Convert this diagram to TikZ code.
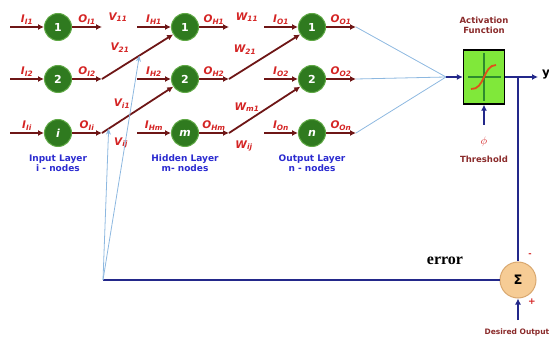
\documentclass[tikz,border=0pt]{standalone}
\usepackage{fontspec}
\setmainfont{DejaVu Sans}
\newfontfamily\errfont{Liberation Serif}
\usetikzlibrary{positioning,calc,arrows.meta}

\definecolor{wirered}{HTML}{6E1616}
\definecolor{labelred}{HTML}{D42424}
\definecolor{tagred}{HTML}{8A2A2A}
\definecolor{cellgreen}{HTML}{2F7A1F}
\definecolor{rimgreen}{HTML}{5FA845}
\definecolor{layerblue}{HTML}{2B2BD0}
\definecolor{feedblue}{HTML}{8DB8E0}
\definecolor{busblue}{HTML}{23288A}
\definecolor{actgreen}{HTML}{80E83A}
\definecolor{crossgreen}{HTML}{2E8B2E}
\definecolor{curveorange}{HTML}{E0501A}
\definecolor{sumfill}{HTML}{F6CC95}
\definecolor{sumrim}{HTML}{D9A870}

\tikzset{
    neuron/.style={circle, draw=rimgreen, line width=1pt, fill=cellgreen, minimum size=27pt,
        inner sep=0pt, text=white, font=\bfseries\fontsize{11}{12}\selectfont},
    wire/.style={draw=wirered, line width=1.8pt, -{Latex[length=6pt,width=6pt]}},
    wlabel/.style={text=labelred, inner sep=1.5pt, font=\bfseries\itshape\fontsize{10.5}{11}\selectfont},
    layertext/.style={text=layerblue, align=center, font=\bfseries\fontsize{9}{10.5}\selectfont},
    tagtext/.style={text=tagred, align=center, font=\bfseries\fontsize{8.5}{10.5}\selectfont},
    feed/.style={draw=feedblue, line width=0.8pt, -{Stealth[length=6pt,width=5pt]}},
    bus/.style={draw=busblue, line width=1.8pt},
    busarrow/.style={bus, -{Latex[length=6pt,width=6pt]}},
    actbox/.style={draw=black, line width=1.4pt, fill=actgreen, minimum width=41pt, minimum height=54pt},
    sumnode/.style={circle, draw=sumrim, line width=1pt, fill=sumfill, minimum size=36pt, inner sep=0pt}
}

\begin{document}
\begin{tikzpicture}[x=1pt,y=-1pt]
    \useasboundingbox (0,0) rectangle (549,339);

    % three layers of neurons
    \foreach \lay/\x/\tag/\last in {in/58/I/i, hid/185/H/m, out/312/O/n}{
        \foreach \row/\y/\nlab in {1/27/1, 2/79/2, 3/133/\last}{
            \node[neuron] (\lay\row) at (\x,\y) {\ifnum\row=3 \itshape\fi\nlab};
            \coordinate (\lay\row src) at (\x-48,\y);
            \coordinate (\lay\row dst) at (\x+44,\y);
            \draw[wire] (\lay\row src) -- node[above,wlabel] (\lay\row ilab) {I\textsubscript{\tag\nlab}} (\lay\row);
            \draw[wire] (\lay\row) -- node[above,wlabel] (\lay\row olab) {O\textsubscript{\tag\nlab}} (\lay\row dst);
        }
    }

    \node[layertext, below=4pt of in3] (incap) {Input Layer\\i - nodes};
    \node[layertext, below=4pt of hid3] (hidcap) {Hidden Layer\\m- nodes};
    \node[layertext, below=4pt of out3] (outcap) {Output Layer\\n - nodes};

    % weighted links
    \draw[wire] (in2dst) -- (hid1);
    \draw[wire] (in3dst) -- (hid2);
    \draw[wire] (hid2dst) -- (out1);
    \draw[wire] (hid3dst) -- (out2);

    \node[wlabel] (v11) at (118,17) {V\textsubscript{11}};
    \node[wlabel] (v21) at (120,48) {V\textsubscript{21}};
    \node[wlabel] (vi1) at (122,104) {V\textsubscript{i1}};
    \node[wlabel] (vij) at (121,143) {V\textsubscript{ij}};
    \node[wlabel] (w11) at (247,17) {W\textsubscript{11}};
    \node[wlabel] (w21) at (245,50) {W\textsubscript{21}};
    \node[wlabel] (wm1) at (247,107) {W\textsubscript{m1}};
    \node[wlabel] (wij) at (244,146) {W\textsubscript{ij}};

    % activation
    \node[actbox] (act) at (484,77) {};
    \draw[crossgreen, line width=1.2pt] ($(act.north)+(0,4)$) -- ($(act.south)+(0,-4)$);
    \draw[crossgreen, line width=1.2pt] ($(act.west)+(5,0)$) -- ($(act.east)+(-4,0)$);
    \draw[curveorange, line width=1.8pt] ($(act)+(-13,12)$) .. controls ($(act)+(1,13)$) and ($(act)+(-1,-12)$) .. ($(act)+(12,-12)$);
    \node[tagtext, above=12pt of act] (actcap) {Activation\\Function};

    \coordinate (merge) at (446,77);
    \draw[feed, -] (out1dst) -- (merge);
    \draw[feed, -] (out2dst) -- (merge);
    \draw[feed, -] (out3dst) -- (merge);
    \draw[busarrow] (merge) -- (act.west);

    \coordinate (thr) at (484,125);
    \draw[busarrow] (thr) -- (act.south);
    \node[text=labelred, font=\fontsize{11}{12}\selectfont] (phi) at (484,142) {$\phi$};
    \node[tagtext] (thrcap) at (484,159) {Threshold};

    % output and error feedback
    \coordinate (yend) at (538,77);
    \coordinate (tap) at (518,77);
    \draw[busarrow] (act.east) -- (yend);
    \node[font=\bfseries\fontsize{12}{12}\selectfont] (ylab) at (546,75) {y};

    \node[sumnode] (sum) at (518,280) {\bfseries\fontsize{13}{13}\selectfont Σ};
    \draw[bus] (tap) -- (sum.north);
    \coordinate (err) at (103,280);
    \draw[bus] (sum.west) -- (err);
    \node[font=\errfont\bfseries\fontsize{16}{17}\selectfont] (errlab) at (445,261) {error};
    \node[text=labelred, font=\bfseries\fontsize{8}{8}\selectfont] (minus) at (530,255) {-};
    \node[text=labelred, font=\bfseries\fontsize{9}{9}\selectfont] (plus) at (532,302) {+};

    \coordinate (des) at (518,320);
    \draw[busarrow] (des) -- (sum.south);
    \node[tagtext, anchor=west, font=\bfseries\fontsize{7.5}{8}\selectfont] (descap) at (481,332) {Desired Output};

    \draw[feed] (err) -- ($(in3dst)!0.08!(hid2)$);
    \draw[feed] (err) -- ($(in2dst)!0.45!(hid1)$);
\end{tikzpicture}
\end{document}
